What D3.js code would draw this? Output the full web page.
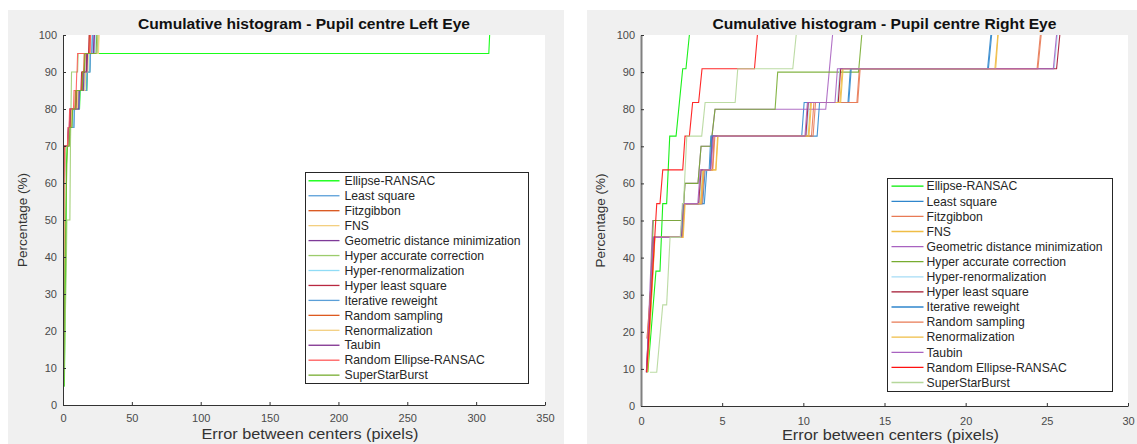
<!DOCTYPE html>
<html>
<head>
<meta charset="utf-8">
<script src="https://cdn.jsdelivr.net/npm/d3@7/dist/d3.min.js"></script>
<style>
  html, body { margin: 0; padding: 0; background: #ffffff; }
  svg { display: block; font-family: "Liberation Sans", Arial, Helvetica, sans-serif; }
</style>
</head>
<body>
<svg id="chart" width="1137" height="444"></svg>
<script>
// ---------------- DATA ----------------
const seriesNames = [
  "Ellipse-RANSAC", "Least square", "Fitzgibbon", "FNS",
  "Geometric distance minimization", "Hyper accurate correction",
  "Hyper-renormalization", "Hyper least square", "Iterative reweight",
  "Random sampling", "Renormalization", "Taubin",
  "Random Ellipse-RANSAC", "SuperStarBurst"
];

const leftColors = [
  "#00ff00", "#5a9fd8", "#d95319", "#f3cf80", "#7e3a98", "#9ccc6c", "#90dcf6",
  "#b82840", "#5a9fd8", "#dd5a20", "#f3cf80", "#7e2f8e", "#ff5a5a", "#77ac30"
];
const rightColors = [
  "#00ee00", "#2f86cc", "#e87a55", "#efbd45", "#a862c0", "#77ac30", "#a6dcf6",
  "#a2142f", "#2f86cc", "#e87a55", "#efbd45", "#a862c0", "#ff1010", "#b5d79a"
];

const yTicks = [0, 10, 20, 30, 40, 50, 60, 70, 80, 90, 100];
const xTicksLeft = [0, 50, 100, 150, 200, 250, 300, 350];
const xTicksRight = [0, 5, 10, 15, 20, 25, 30];

// Left eye: cumulative percentage vs error (pixels), [error, percent]
const leftCurves = [
  /* Ellipse-RANSAC */ [[1,5],[1.5,25],[2.2,45],[2.5,65],[3,70],[4.5,70],[5,75],[6.5,75],[7,80],[12,80],[12.5,85],[17.3,85],[17.7,90],[19.3,90],[19.8,95],[309.2,95],[309.8,100]],
  /* Least square */ [[0.2,5],[0.4,20],[0.8,50],[1.2,70],[3.5,70],[4,75],[7.8,75],[8.3,80],[11.5,80],[12,85],[17,85],[17.5,90],[19.5,90],[20,95],[21,95],[21.5,100]],
  /* Fitzgibbon */ [[0.2,5],[0.6,30],[1,60],[1.4,70],[3.6,70],[4.1,75],[5.2,75],[5.6,80],[8.6,80],[9,85],[13.5,85],[14,90],[15,90],[15.4,95],[18.8,95],[19.2,100]],
  /* FNS */ [[0.3,5],[0.8,35],[1.3,65],[1.8,70],[4,70],[4.5,75],[5.6,75],[6,80],[10,80],[10.5,85],[15.5,85],[16,90],[17.5,90],[18,95],[25.5,95],[26,100]],
  /* Geometric distance minimization */ [[0,5],[0.3,30],[0.6,55],[0.9,70],[3.5,70],[4,75],[4.6,75],[5,80],[11,80],[11.5,85],[14.2,85],[14.6,90],[16.8,90],[17.2,95],[22,95],[22.5,100]],
  /* Hyper accurate correction */ [[0.7,5],[1.5,20],[2.5,40],[2.8,50],[5,50],[5.4,70],[5.8,80],[6.2,90],[10.6,90],[11,95],[24.8,95],[25.3,100]],
  /* Hyper-renormalization */ [[0,5],[0.3,15],[0.6,45],[1,70],[3.6,70],[4.1,75],[7,75],[7.5,80],[11.2,80],[11.6,85],[15.6,85],[16,90],[19,90],[19.4,95],[23,95],[23.5,100]],
  /* Hyper least square */ [[0,5],[0.3,35],[0.5,65],[0.8,70],[3.5,70],[4,75],[5.5,75],[6,80],[9.5,80],[10,85],[13,85],[13.5,90],[17,90],[17.5,95],[18.6,95],[19,100]],
  /* Iterative reweight */ [[0.3,5],[0.6,25],[1,55],[1.5,70],[3.8,70],[4.3,75],[8,75],[8.4,80],[11.8,80],[12.2,85],[17.2,85],[17.6,90],[19.6,90],[20,95],[20.8,95],[21.2,100]],
  /* Random sampling */ [[0.2,5],[0.5,25],[0.9,55],[1.3,70],[3.7,70],[4.2,75],[5.5,75],[6,80],[9,80],[9.5,85],[13.8,85],[14.2,90],[15.6,90],[16,95],[19.4,95],[19.8,100]],
  /* Renormalization */ [[0.3,5],[0.8,30],[1.2,60],[1.6,70],[4.2,70],[4.6,75],[6,75],[6.4,80],[10.4,80],[10.8,85],[16,85],[16.4,90],[18,90],[18.4,95],[25.8,95],[26.2,100]],
  /* Taubin */ [[0,5],[0.2,25],[0.5,60],[0.8,70],[3.4,70],[3.9,75],[4.8,75],[5.2,80],[11.4,80],[11.8,85],[14.8,85],[15.2,90],[17.4,90],[17.8,95],[22.4,95],[22.8,100]],
  /* Random Ellipse-RANSAC */ [[0,5],[0.3,30],[0.6,60],[1,70],[3.2,70],[3.7,75],[4.4,75],[4.8,80],[7.6,80],[8,85],[9.6,85],[10,90],[10.2,90],[10.6,95],[19.6,95],[20,100]],
  /* SuperStarBurst */ [[0.5,5],[1.2,30],[2,50],[2.8,65],[3.3,70],[4.5,70],[5,75],[6.5,75],[7,80],[9.2,80],[9.6,85],[14,85],[14.4,90],[15.5,90],[16,95],[24,95],[24.5,100]]
];

// Right eye
const rightCurves = [
  /* Ellipse-RANSAC */ [[0.42,9.09],[0.92,36.36],[1.17,36.36],[1.34,54.55],[1.58,54.55],[1.77,72.73],[2.16,72.73],[2.57,90.91],[2.77,90.91],[2.98,100]],
  /* Least square */ [[0.35,9.09],[0.8,45.45],[2.45,45.45],[2.58,54.55],[3.8,54.55],[3.95,63.64],[4.2,63.64],[4.3,72.73],[9.9,72.73],[10.05,81.82],[12.75,81.82],[12.9,90.91],[21.35,90.91],[21.55,100]],
  /* Fitzgibbon */ [[0.38,18.18],[0.82,45.45],[2.5,45.45],[2.62,54.55],[3.7,54.55],[3.85,63.64],[4.4,63.64],[4.5,72.73],[10.5,72.73],[10.65,81.82],[13.3,81.82],[13.45,90.91],[24.4,90.91],[24.6,100]],
  /* FNS */ [[0.4,9.09],[0.85,45.45],[2.55,45.45],[2.68,54.55],[3.65,54.55],[3.8,63.64],[4.6,63.64],[4.72,72.73],[10.3,72.73],[10.45,81.82],[12.25,81.82],[12.4,90.91],[21.8,90.91],[21.98,100]],
  /* Geometric distance minimization */ [[0.35,10],[0.72,50],[2.57,50],[2.71,60],[3.51,60],[3.7,70],[4.3,70],[4.56,80],[11.38,80],[11.8,100]],
  /* Hyper accurate correction */ [[0.4,10],[0.76,50],[2.57,50],[2.71,60],[3.51,60],[3.7,70],[4.3,70],[4.56,80],[8.26,80],[8.42,90],[13.4,90],[13.6,100]],
  /* Hyper-renormalization */ [[0.35,9.09],[0.8,45.45],[2.5,45.45],[2.62,54.55],[3.6,54.55],[3.75,63.64],[4.25,63.64],[4.38,72.73],[10.2,72.73],[10.35,81.82],[12.1,81.82],[12.25,90.91],[25.45,90.91],[25.65,100]],
  /* Hyper least square */ [[0.33,9.09],[0.78,45.45],[2.48,45.45],[2.6,54.55],[3.55,54.55],[3.7,63.64],[4.28,63.64],[4.4,72.73],[10.15,72.73],[10.3,81.82],[12.15,81.82],[12.3,90.91],[25.6,90.91],[25.8,100]],
  /* Iterative reweight */ [[0.36,9.09],[0.82,45.45],[2.52,45.45],[2.64,54.55],[3.9,54.55],[4.05,63.64],[4.25,63.64],[4.36,72.73],[10.85,72.73],[11.0,81.82],[12.8,81.82],[12.95,90.91],[21.4,90.91],[21.6,100]],
  /* Random sampling */ [[0.37,18.18],[0.84,45.45],[2.56,45.45],[2.68,54.55],[3.75,54.55],[3.9,63.64],[4.42,63.64],[4.55,72.73],[10.6,72.73],[10.75,81.82],[13.35,81.82],[13.5,90.91],[24.45,90.91],[24.65,100]],
  /* Renormalization */ [[0.4,9.09],[0.86,45.45],[2.6,45.45],[2.72,54.55],[3.7,54.55],[3.85,63.64],[4.62,63.64],[4.75,72.73],[10.35,72.73],[10.5,81.82],[12.3,81.82],[12.45,90.91],[21.85,90.91],[22.0,100]],
  /* Taubin */ [[0.33,9.09],[0.76,45.45],[2.45,45.45],[2.58,54.55],[3.5,54.55],[3.65,63.64],[4.3,63.64],[4.45,72.73],[10.1,72.73],[10.25,81.82],[11.95,81.82],[12.1,90.91],[25.4,90.91],[25.6,100]],
  /* Random Ellipse-RANSAC */ [[0.35,9.09],[0.97,54.55],[1.17,54.55],[1.34,63.64],[2.57,63.64],[2.71,72.73],[2.98,72.73],[3.18,81.82],[3.55,81.82],[3.76,90.91],[6.99,90.91],[7.17,100]],
  /* SuperStarBurst */ [[0.55,9.09],[0.97,9.09],[1.34,27.27],[1.58,27.27],[1.79,45.45],[2.42,45.45],[2.55,54.55],[2.62,54.55],[2.82,72.73],[3.74,72.73],[3.95,81.82],[5.8,81.82],[5.96,90.91],[9.35,90.91],[9.56,100]]
];

const titles = ["Cumulative histogram - Pupil centre Left Eye", "Cumulative histogram - Pupil centre Right Eye"];
const xLabel = "Error between centers (pixels)";
const yLabel = "Percentage (%)";

// ---------------- DRAWING ----------------
const svg = d3.select("#chart");

function drawChart(o) {
  const g = svg.append("g");
  g.append("rect").attr("x", o.panel[0]).attr("y", o.panel[1])
    .attr("width", o.panel[2]).attr("height", o.panel[3]).attr("fill", "#f0f0f0");
  g.append("rect").attr("x", o.l).attr("y", o.t)
    .attr("width", o.r - o.l).attr("height", o.b - o.t).attr("fill", "#ffffff");

  const x = d3.scaleLinear().domain([0, o.xMax]).range([o.l, o.r]);
  const y = d3.scaleLinear().domain([0, 100]).range([o.b, o.t]);

  const clipId = "clip" + o.id;
  svg.append("defs").append("clipPath").attr("id", clipId)
    .append("rect").attr("x", o.l).attr("y", o.t - 1)
    .attr("width", o.r - o.l + 1).attr("height", o.b - o.t + 1);

  const line = d3.line().x(d => x(d[0])).y(d => y(d[1]));
  const lg = g.append("g").attr("clip-path", `url(#${clipId})`);
  o.curves.forEach((c, i) => {
    lg.append("path").attr("d", line(c)).attr("fill", "none")
      .attr("stroke", o.colors[i]).attr("stroke-width", 1.1)
      .attr("stroke-opacity", 0.9);
  });

  const xAxis = d3.axisBottom(x).tickValues(o.xTicks).tickSize(-3).tickSizeOuter(0)
    .tickPadding(o.xPad).tickFormat(d3.format("d"));
  const yAxis = d3.axisLeft(y).tickValues(yTicks).tickSize(-3).tickSizeOuter(0)
    .tickPadding(6).tickFormat(d3.format("d"));

  const gx = g.append("g").attr("transform", `translate(0,${o.b})`).call(xAxis);
  const gy = g.append("g").attr("transform", `translate(${o.l},0)`).call(yAxis);
  [gx, gy].forEach(a => {
    a.selectAll("text").attr("font-size", 11).attr("fill", "#4a4a4a")
      .attr("font-family", "Liberation Sans, Arial, sans-serif");
    a.selectAll("line").attr("stroke", "#333");
  });
  gx.select(".domain").attr("stroke", "#333").attr("stroke-width", 1);
  gy.select(".domain").attr("stroke", o.yAxisColor).attr("stroke-width", o.yAxisWidth);

  g.append("text").attr("x", (o.l + o.r) / 2).attr("y", 29)
    .attr("text-anchor", "middle").attr("font-weight", "bold")
    .attr("font-size", 14.5).attr("fill", "#111")
    .attr("textLength", o.titleLen).attr("lengthAdjust", "spacingAndGlyphs")
    .text(o.title);

  g.append("text").attr("x", (o.l + o.r) / 2 + 6).attr("y", o.xLabelY)
    .attr("text-anchor", "middle").attr("font-size", 14).attr("fill", "#333")
    .attr("textLength", 217).attr("lengthAdjust", "spacingAndGlyphs")
    .text(xLabel);

  g.append("text")
    .attr("transform", `translate(${o.l - 36},${(o.t + o.b) / 2}) rotate(-90)`)
    .attr("text-anchor", "middle").attr("font-size", 13.5).attr("fill", "#333")
    .text(yLabel);

  const L = o.legend;
  const lgd = g.append("g");
  lgd.append("rect").attr("x", L.x).attr("y", L.y).attr("width", L.w).attr("height", L.h)
    .attr("fill", "#ffffff").attr("stroke", "#262626").attr("stroke-width", 1);
  seriesNames.forEach((name, i) => {
    const cy = L.y + L.first + i * L.step;
    lgd.append("line").attr("x1", L.x + L.s0).attr("x2", L.x + L.s1)
      .attr("y1", cy).attr("y2", cy)
      .attr("stroke", o.colors[i]).attr("stroke-width", 1.3);
    lgd.append("text").attr("x", L.x + L.tx).attr("y", cy + 4.2)
      .attr("font-size", 12.2).attr("fill", "#262626").text(name);
  });
}

drawChart({
  id: "L", panel: [8, 10, 556, 434], l: 63, t: 35, r: 545, b: 405,
  xMax: 350, xTicks: xTicksLeft, xPad: 9, curves: leftCurves, colors: leftColors,
  title: titles[0], titleLen: 332, xLabelY: 439,
  yAxisColor: "#333", yAxisWidth: 1,
  legend: { x: 305.5, y: 172.5, w: 223, h: 211, first: 8.3, step: 14.95, s0: 3, s1: 34, tx: 39 }
});

drawChart({
  id: "R", panel: [587, 10, 550, 434], l: 641, t: 35, r: 1128, b: 406,
  xMax: 30, xTicks: xTicksRight, xPad: 11, curves: rightCurves, colors: rightColors,
  title: titles[1], titleLen: 344, xLabelY: 440,
  yAxisColor: "#808080", yAxisWidth: 2,
  legend: { x: 887.5, y: 178.5, w: 225, h: 213, first: 7.7, step: 15.1, s0: 4, s1: 36, tx: 39 }
});
</script>
</body>
</html>
